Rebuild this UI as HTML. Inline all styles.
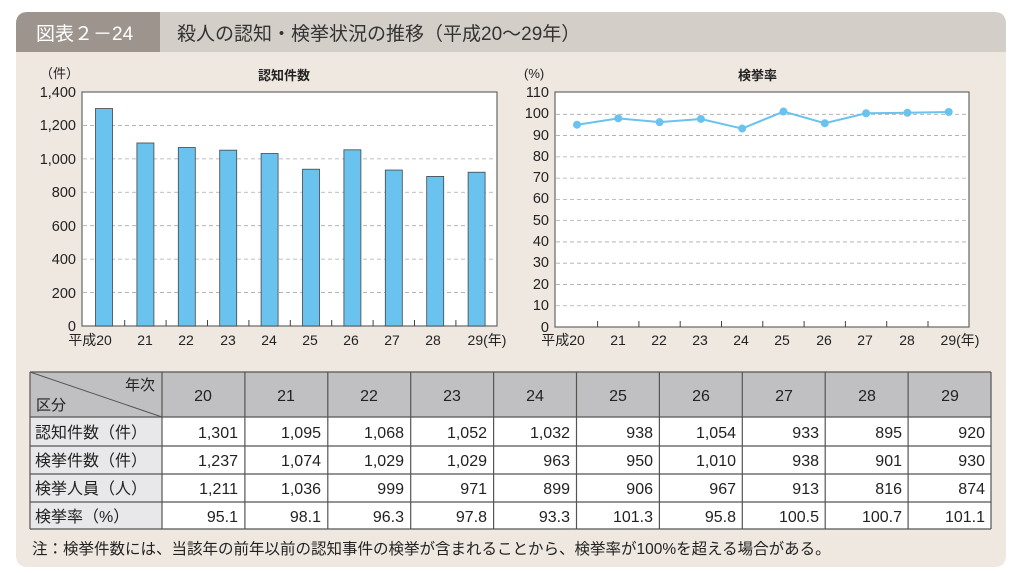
<!DOCTYPE html>
<html><head><meta charset="utf-8"><style>
body{margin:0;background:#fff;width:1024px;height:573px;overflow:hidden}
svg{display:block;font-family:"Liberation Sans","Noto Sans CJK JP",sans-serif}
</style></head><body>
<svg id="s" width="1024" height="573" viewBox="0 0 1024 573">
<path d="M16 24 Q16 12 28 12 L994 12 Q1006 12 1006 24 L1006 555 Q1006 567 994 567 L28 567 Q16 567 16 555 Z" fill="#efe8e1"/>
<path d="M16 24 Q16 12 28 12 L994 12 Q1006 12 1006 24 L1006 52 L16 52 Z" fill="#d4cec8"/>
<path d="M16 24 Q16 12 28 12 L160 12 L160 52 L16 52 Z" fill="#9d958d"/>
<text x="36" y="40" font-size="19" fill="#fff">図表２－24</text>
<text x="177" y="40" font-size="19" fill="#333">殺人の認知・検挙状況の推移（平成20～29年）</text>

<rect x="82" y="92" width="415" height="234" fill="#fff" stroke="#666" stroke-width="1.2"/>
<rect x="555" y="92" width="414" height="235" fill="#fff" stroke="#666" stroke-width="1.2"/>
<g id="g1"></g>

<g font-size="14.5" fill="#222" text-anchor="end">
<text x="76" y="97">1,400</text><text x="76" y="130">1,200</text><text x="76" y="164">1,000</text><text x="76" y="197">800</text><text x="76" y="231">600</text><text x="76" y="264">400</text><text x="76" y="298">200</text><text x="76" y="331">0</text>
<text x="549" y="97">110</text><text x="549" y="118">100</text><text x="549" y="140">90</text><text x="549" y="161">80</text><text x="549" y="182">70</text><text x="549" y="203">60</text><text x="549" y="225">50</text><text x="549" y="246">40</text><text x="549" y="267">30</text><text x="549" y="289">20</text><text x="549" y="310">10</text><text x="549" y="332">0</text>
</g>
<g font-size="13" fill="#222">
<text x="40" y="78">（件）</text><text x="524" y="78">(%)</text>
<text x="258" y="80" font-weight="bold">認知件数</text>
<text x="738" y="80" font-weight="bold">検挙率</text>
</g>
<g font-size="14" fill="#222" text-anchor="middle">
<text x="90" y="345">平成20</text><text x="145" y="345">21</text><text x="186" y="345">22</text><text x="228" y="345">23</text><text x="269" y="345">24</text><text x="310" y="345">25</text><text x="351" y="345">26</text><text x="392" y="345">27</text><text x="433" y="345">28</text><text x="487" y="345">29(年)</text>
<text x="563" y="345">平成20</text><text x="618" y="345">21</text><text x="659" y="345">22</text><text x="700" y="345">23</text><text x="741" y="345">24</text><text x="782" y="345">25</text><text x="824" y="345">26</text><text x="865" y="345">27</text><text x="907" y="345">28</text><text x="960" y="345">29(年)</text>
</g>

<g id="tbl"></g>
<g font-size="16" fill="#222">
<text x="125" y="390" font-size="15">年次</text><text x="36" y="410" font-size="15">区分</text>
<text x="35" y="438">認知件数（件）</text><text x="35" y="466">検挙件数（件）</text><text x="35" y="494">検挙人員（人）</text><text x="35" y="522">検挙率（%）</text>
</g>
<g font-size="16" fill="#222" text-anchor="middle" font-weight="500">
<text x="203" y="401">20</text><text x="286" y="401">21</text><text x="369" y="401">22</text><text x="452" y="401">23</text><text x="535" y="401">24</text><text x="618" y="401">25</text><text x="701" y="401">26</text><text x="784" y="401">27</text><text x="867" y="401">28</text><text x="950" y="401">29</text>
</g>
<g font-size="16" fill="#222" text-anchor="end">
<text x="238" y="438">1,301</text><text x="321" y="438">1,095</text><text x="404" y="438">1,068</text><text x="487" y="438">1,052</text><text x="570" y="438">1,032</text><text x="653" y="438">938</text><text x="736" y="438">1,054</text><text x="819" y="438">933</text><text x="902" y="438">895</text><text x="985" y="438">920</text>
<text x="238" y="466">1,237</text><text x="321" y="466">1,074</text><text x="404" y="466">1,029</text><text x="487" y="466">1,029</text><text x="570" y="466">963</text><text x="653" y="466">950</text><text x="736" y="466">1,010</text><text x="819" y="466">938</text><text x="902" y="466">901</text><text x="985" y="466">930</text>
<text x="238" y="494">1,211</text><text x="321" y="494">1,036</text><text x="404" y="494">999</text><text x="487" y="494">971</text><text x="570" y="494">899</text><text x="653" y="494">906</text><text x="736" y="494">967</text><text x="819" y="494">913</text><text x="902" y="494">816</text><text x="985" y="494">874</text>
<text x="238" y="522">95.1</text><text x="321" y="522">98.1</text><text x="404" y="522">96.3</text><text x="487" y="522">97.8</text><text x="570" y="522">93.3</text><text x="653" y="522">101.3</text><text x="736" y="522">95.8</text><text x="819" y="522">100.5</text><text x="902" y="522">100.7</text><text x="985" y="522">101.1</text>
</g>
<text x="32" y="554" font-size="15.5" fill="#222">注：検挙件数には、当該年の前年以前の認知事件の検挙が含まれることから、検挙率が100%を超える場合がある。</text>
</svg>
<script>
var NS="http://www.w3.org/2000/svg";
function el(p,t,a){var e=document.createElementNS(NS,t);for(var k in a)e.setAttribute(k,a[k]);p.appendChild(e);return e;}
var g=document.getElementById("g1");
for(var k=1;k<=6;k++){var y=326-33.43*k;el(g,"line",{x1:83,x2:496,y1:y,y2:y,stroke:"#aaa","stroke-dasharray":"4 3","stroke-width":0.8});}
for(var k=1;k<=10;k++){var y=327-21.27*k;el(g,"line",{x1:556,x2:968,y1:y,y2:y,stroke:"#aaa","stroke-dasharray":"4 3","stroke-width":0.8});}
var v=[1301,1095,1068,1052,1032,938,1054,933,895,920];
for(var i=0;i<10;i++){var h=v[i]*234/1400,x=104+41.4*i;el(g,"rect",{x:x-8.5,y:326-h,width:17,height:h,fill:"#69c3ee",stroke:"#444","stroke-width":0.8});}
for(var i=0;i<9;i++){var x=124.7+41.4*i;el(g,"line",{x1:x,x2:x,y1:320,y2:326,stroke:"#444"});var x2=597.6+41.3*i;el(g,"line",{x1:x2,x2:x2,y1:321,y2:327,stroke:"#444"});}
var r=[95.1,98.1,96.3,97.8,93.3,101.3,95.8,100.5,100.7,101.1],pts=[];
for(var i=0;i<10;i++){pts.push((577+41.3*i)+","+(327-r[i]*2.127));}
el(g,"polyline",{points:pts.join(" "),fill:"none",stroke:"#69c3ee","stroke-width":2});
pts.forEach(function(p){var a=p.split(",");el(g,"circle",{cx:a[0],cy:a[1],r:4,fill:"#69c3ee"});});
var t=document.getElementById("tbl");
el(t,"rect",{x:30,y:372,width:961,height:45,fill:"#c0c0c2"});
el(t,"rect",{x:30,y:417,width:132,height:112,fill:"#e8e8ea"});
el(t,"rect",{x:162,y:417,width:829,height:112,fill:"#fff"});
[372,417,446,474,502,529].forEach(function(y){el(t,"line",{x1:30,x2:991,y1:y,y2:y,stroke:"#555","stroke-width":1.2});});
var cols=[30,162];for(var i=1;i<=10;i++)cols.push(162+82.9*i);
cols.forEach(function(x){el(t,"line",{x1:x,x2:x,y1:372,y2:529,stroke:"#555","stroke-width":1.2});});
el(t,"line",{x1:30,y1:372,x2:162,y2:417,stroke:"#555","stroke-width":1});
</script>
</body></html>
